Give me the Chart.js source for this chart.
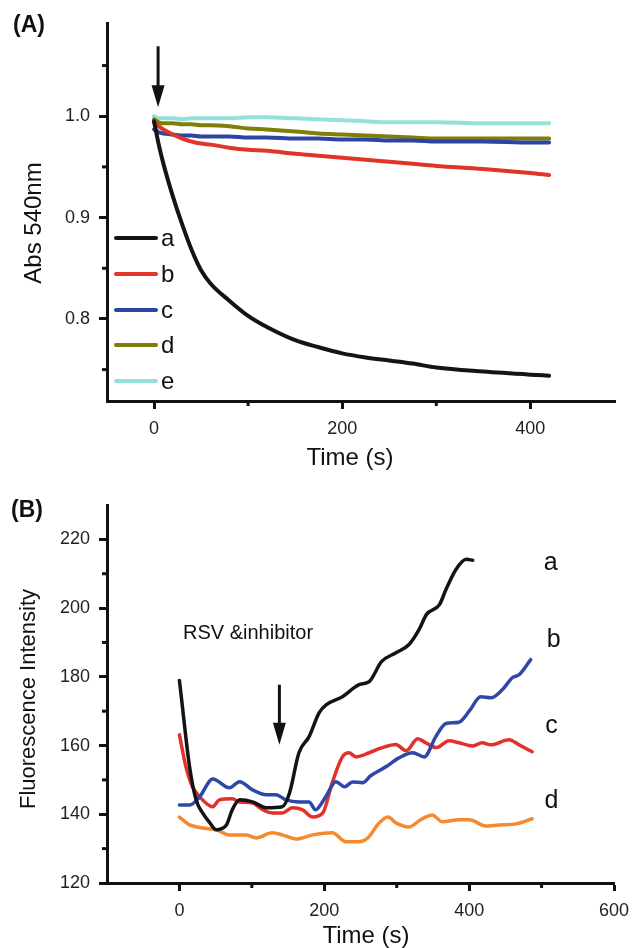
<!DOCTYPE html>
<html><head><meta charset="utf-8">
<script src="https://cdn.jsdelivr.net/npm/chart.js@4.4.1/dist/chart.umd.min.js"></script>
<style>
html,body{margin:0;padding:0;background:#fff;width:639px;height:948px;overflow:hidden;}
#ca{position:absolute;left:0;top:0;}
#cb{position:absolute;left:0;top:475px;}
</style>
</head><body>
<canvas id="ca" width="639" height="475"></canvas>
<canvas id="cb" width="639" height="473"></canvas>
<script>
// ---------- Panel A data ----------
const timeA = [0,5,10,20,30,40,50,60,80,100,120,150,175,200,225,250,275,300,350,400,420];
const absA = [0.995,0.972,0.953,0.921,0.893,0.868,0.848,0.835,0.818,0.803,0.792,0.779,0.772,0.766,0.762,0.759,0.756,0.752,0.748,0.745,0.744];
const absB = [0.994,0.990,0.987,0.982,0.978,0.975,0.973,0.972,0.969,0.967,0.966,0.963,0.961,0.959,0.957,0.955,0.953,0.951,0.948,0.944,0.942];
const absC = [0.987,0.984,0.983,0.982,0.981,0.981,0.980,0.980,0.980,0.979,0.979,0.978,0.978,0.977,0.977,0.976,0.976,0.975,0.975,0.974,0.974];
const absD = [0.997,0.994,0.993,0.993,0.992,0.992,0.991,0.991,0.990,0.988,0.987,0.985,0.983,0.982,0.981,0.980,0.979,0.978,0.978,0.978,0.978];
const absE = [1.000,0.998,0.998,0.998,0.997,0.998,0.998,0.998,0.998,0.999,0.999,0.998,0.997,0.996,0.995,0.994,0.994,0.994,0.993,0.993,0.993];
const seriesNamesA = ['a','b','c','d','e'];
const xTicksA = [0,200,400];
const xMinorA = [100,300];
const yTicksA = [0.8,0.9,1.0];
const yMinorA = [0.75,0.85,0.95,1.05];

// ---------- Panel B data ----------
const timeBa = [0,3,14,23,32,41,51,58,65,73,83,101,120,142,152,165,179,193,203,225,248,262,279,299,317,331,341,359,368,382,396,405];
const fluoBa = [178.9,173.4,153.8,144.2,140.4,137.8,135.5,135.8,136.9,141.3,144.2,143.6,141.9,142.2,146.2,157.9,162.6,169.6,171.9,174.2,177.7,178.6,184.4,187,189.4,193.8,198.1,201,205.4,211.3,214.2,213.9];
const timeBb = [0,14,28,46,69,83,101,120,133,147,165,179,188,202,216,228,239,253,264,285,303,322,338,354,368,386,400,416,430,446,460,469,485];
const fluoBb = [142.7,142.7,145.1,150.3,147.7,149.5,147.1,145.7,145.7,144.2,143.6,143.6,141.3,145.1,149.5,148,149.4,149.2,151.2,153.8,156.4,157.9,156.7,162.6,166.4,166.8,170,174.2,173.9,176.3,179.8,180.6,185];
const timeBc = [0,9,18,28,46,55,73,83,101,115,128,142,156,170,184,198,211,225,234,244,262,280,299,313,329,340,355,372,386,405,418,430,455,469,487];
const fluoBc = [163.1,153.8,148,145.1,142.2,144.2,144.5,143.6,143.3,141.3,140.4,140.4,141.9,141.3,139.2,140.4,149.2,156.7,157.9,156.7,157.9,159.4,160.3,158.5,162,160.8,159.4,161.4,160.8,159.9,160.8,160.2,161.7,160.2,158.2];
const timeBd = [0,14,32,51,69,92,106,128,142,161,184,211,230,248,260,276,288,299,317,333,349,363,386,400,423,441,465,487];
const fluoBd = [139.2,136.9,136,135.5,134,134,133.1,134.6,134,132.8,134,134.6,132,132,133.1,137.5,139.2,137.5,136.3,138.4,139.8,137.8,138.4,138.4,136.6,136.9,137.2,138.7];
const seriesNamesB = ['a','b','c','d'];
const xTicksB = [0,200,400,600];
const xMinorB = [100,300,500];
const yTicksB = [120,140,160,180,200,220];
const yMinorB = [130,150,170,190,210];

const FONT = "'Liberation Sans', Arial, Helvetica, sans-serif";
const INK = '#111111';

function pairs(xs, ys){ return xs.map((x,i)=>({x:x, y:ys[i]})); }

function axisOpts(min, max, ticks, pos, fitFn){
  return {
    type:'linear', position:pos, min:min, max:max,
    afterBuildTicks: s => { s.ticks = ticks.map(v=>({value:v})); },
    afterFit: fitFn,
    grid:{display:true, drawOnChartArea:false, drawTicks:true, tickLength:8, tickWidth:3, tickColor:INK, color:INK},
    border:{display:true, color:INK, width:3},
    ticks:{color:'#222', font:{family:FONT, size:18}, padding:9, autoSkip:false, maxRotation:0,
      callback: v => (pos==='left' && max < 2) ? v.toFixed(1) : String(v)}
  };
}

function minorTicks(chart, xs, ys){
  const ctx = chart.ctx, xS = chart.scales.x, yS = chart.scales.y, a = chart.chartArea;
  ctx.save(); ctx.strokeStyle = INK; ctx.lineWidth = 3;
  xs.forEach(v=>{ const p = xS.getPixelForValue(v); ctx.beginPath(); ctx.moveTo(p, a.bottom); ctx.lineTo(p, a.bottom+5); ctx.stroke(); });
  ys.forEach(v=>{ const p = yS.getPixelForValue(v); ctx.beginPath(); ctx.moveTo(a.left, p); ctx.lineTo(a.left-5, p); ctx.stroke(); });
  ctx.restore();
}

function arrow(chart, xv, yTop, yBase, yTip){
  const ctx = chart.ctx, xS = chart.scales.x, yS = chart.scales.y;
  const x = xS.getPixelForValue(xv), t = yS.getPixelForValue(yTop), b = yS.getPixelForValue(yBase), tip = yS.getPixelForValue(yTip);
  ctx.save(); ctx.strokeStyle = INK; ctx.fillStyle = INK; ctx.lineWidth = 3;
  ctx.beginPath(); ctx.moveTo(x, t); ctx.lineTo(x, b+2); ctx.stroke();
  ctx.beginPath(); ctx.moveTo(x-6.5, b); ctx.lineTo(x+6.5, b); ctx.lineTo(x, tip); ctx.closePath(); ctx.fill();
  ctx.restore();
}

function text(ctx, str, x, y, size, opts){
  opts = opts || {};
  ctx.save();
  ctx.font = (opts.bold?'bold ':'') + size + 'px ' + FONT;
  ctx.fillStyle = opts.color || INK;
  ctx.textAlign = opts.align || 'center';
  ctx.textBaseline = opts.baseline || 'middle';
  ctx.translate(x, y);
  if (opts.rot) ctx.rotate(opts.rot);
  ctx.fillText(str, 0, 0);
  ctx.restore();
}

const lineDefaults = {pointRadius:0, pointHoverRadius:0, fill:false, tension:0.4, cubicInterpolationMode:'monotone', borderCapStyle:'round', borderJoinStyle:'round'};

// ---------- Chart A ----------
const colorsA = ['#141414','#e2352a','#2d44a3','#7f7f08','#93e1d8'];
const valsA = [absA, absB, absC, absD, absE];

const decorA = {
  id:'decorA',
  afterDraw(chart){
    const ctx = chart.ctx;
    minorTicks(chart, xMinorA, yMinorA);
    arrow(chart, 4.3, 1.069, 1.0305, 1.0089);
    // legend
    const rows = [238,274,310,345,381];
    rows.forEach((y,i)=>{
      ctx.save(); ctx.strokeStyle = colorsA[i]; ctx.lineWidth = 4; ctx.lineCap='round';
      ctx.beginPath(); ctx.moveTo(116, y); ctx.lineTo(156, y); ctx.stroke(); ctx.restore();
      text(ctx, seriesNamesA[i], 161, y+7.5, 24, {align:'left', baseline:'alphabetic'});
    });
    text(ctx, '(A)', 13, 26, 23, {bold:true, align:'left'});
    text(ctx, 'Time (s)', 350, 458, 24);
    text(ctx, 'Abs 540nm', 34, 223, 24, {rot:-Math.PI/2});
  }
};

new Chart(document.getElementById('ca'), {
  type:'line',
  data:{ datasets: valsA.map((v,i)=>Object.assign({label:seriesNamesA[i], data:pairs(timeA, v), borderColor:colorsA[i], borderWidth:4}, lineDefaults)) },
  options:{
    responsive:false, animation:false, devicePixelRatio:1,
    layout:{padding:{left:0, top:23, right:24, bottom:0}},
    plugins:{legend:{display:false}, tooltip:{enabled:false}},
    scales:{
      x: axisOpts(-50, 490, xTicksA, 'bottom', s=>{ s.height = 475-401; }),
      y: axisOpts(0.719, 1.092, yTicksA, 'left', s=>{ s.width = 107; })
    }
  },
  plugins:[decorA]
});

// ---------- Chart B ----------
const colorsB = ['#141414','#2e47a8','#e2302a','#f58a2c'];
const seriesB = [[timeBa,fluoBa],[timeBb,fluoBb],[timeBc,fluoBc],[timeBd,fluoBd]];

const decorB = {
  id:'decorB',
  afterDraw(chart){
    const ctx = chart.ctx, xS = chart.scales.x, yS = chart.scales.y;
    minorTicks(chart, xMinorB, yMinorB);
    arrow(chart, 138, 177.7, 166.6, 160.2);
    const lab = [[503,211.0],[507,188.8],[505,163.7],[504,141.9]];
    lab.forEach((p,i)=> text(ctx, seriesNamesB[i], xS.getPixelForValue(p[0]), yS.getPixelForValue(p[1]), 25, {align:'left', baseline:'alphabetic'}));
    text(ctx, 'RSV &inhibitor', 183, 164, 20, {align:'left', baseline:'alphabetic'});
    text(ctx, '(B)', 11, 36, 23, {bold:true, align:'left'});
    text(ctx, 'Fluorescence Intensity', 29, 224, 22, {rot:-Math.PI/2});
    text(ctx, 'Time (s)', 366, 461, 24);
  }
};

new Chart(document.getElementById('cb'), {
  type:'line',
  data:{ datasets: seriesB.map((s,i)=>Object.assign({label:seriesNamesB[i], data:pairs(s[0], s[1]), borderColor:colorsB[i], borderWidth:3.5}, lineDefaults)) },
  options:{
    responsive:false, animation:false, devicePixelRatio:1,
    layout:{padding:{left:0, top:30, right:25, bottom:0}},
    plugins:{legend:{display:false}, tooltip:{enabled:false}},
    scales:{
      x: axisOpts(-100, 600, xTicksB, 'bottom', s=>{ s.height = 473-408; }),
      y: axisOpts(120, 230, yTicksB, 'left', s=>{ s.width = 107; })
    }
  },
  plugins:[decorB]
});
</script>
</body></html>
